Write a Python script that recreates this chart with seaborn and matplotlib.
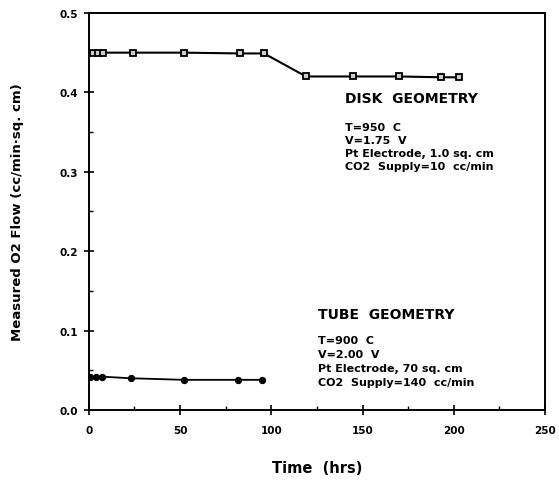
import numpy as np
import pandas as pd
import matplotlib
matplotlib.use("Agg")
import matplotlib.pyplot as plt
import seaborn as sns
from matplotlib.ticker import MultipleLocator

# data
disk_hrs = [2, 5, 8, 24, 52, 83, 96, 119, 145, 170, 193, 203]
disk_flow = [0.450, 0.450, 0.450, 0.450, 0.450, 0.449, 0.449, 0.420, 0.420, 0.420, 0.419, 0.419]
tube_hrs = [0.5, 4, 7, 23, 52, 82, 95]
tube_flow = [0.042, 0.042, 0.042, 0.040, 0.038, 0.038, 0.038]

disk_title = "DISK  GEOMETRY"
disk_notes = ["T=950  C", "V=1.75  V", "Pt Electrode, 1.0 sq. cm", "CO2  Supply=10  cc/min"]
tube_title = "TUBE  GEOMETRY"
tube_notes = ["T=900  C", "V=2.00  V", "Pt Electrode, 70 sq. cm", "CO2  Supply=140  cc/min"]

sns.set_style("ticks", {"axes.edgecolor": "black", "text.color": "black",
                        "axes.labelcolor": "black", "xtick.color": "black",
                        "ytick.color": "black"})
plt.rcParams['font.family'] = ['DejaVu Sans']
plt.rcParams['font.weight'] = 'bold'

fig = plt.figure(figsize=(5.59, 4.81), dpi=100)
ax = fig.add_axes([0.159, 0.1455, 0.816, 0.8255])

df_disk = pd.DataFrame({"hrs": disk_hrs, "flow": disk_flow})
df_tube = pd.DataFrame({"hrs": tube_hrs, "flow": tube_flow})

sns.lineplot(data=df_disk, x="hrs", y="flow", ax=ax, color="black", lw=1.5,
             marker="s", markersize=4.5, markerfacecolor="#cccccc",
             markeredgecolor="black", markeredgewidth=1.3)
sns.lineplot(data=df_tube, x="hrs", y="flow", ax=ax, color="black", lw=1.3,
             marker="o", markersize=4.5, markerfacecolor="black",
             markeredgecolor="black")

ax.set_xlim(0, 250)
ax.set_ylim(0, 0.5)
ax.xaxis.set_major_locator(MultipleLocator(50))
ax.xaxis.set_minor_locator(MultipleLocator(25))
ax.yaxis.set_major_locator(MultipleLocator(0.1))
ax.yaxis.set_minor_locator(MultipleLocator(0.05))
ax.yaxis.set_major_formatter(matplotlib.ticker.FormatStrFormatter('%.1f'))
ax.tick_params(which='major', direction='inout', length=7, width=1.2, labelsize=7.5)
ax.tick_params(axis='x', which='major', pad=7)
ax.tick_params(axis='y', which='major', pad=4)
ax.tick_params(which='minor', direction='in', length=3, width=1.0)
for lab in ax.get_xticklabels() + ax.get_yticklabels():
    lab.set_fontweight('bold')
for sp in ax.spines.values():
    sp.set_linewidth(1.4)
    sp.set_visible(True)

ax.set_xlabel("Time  (hrs)", fontsize=10.5, fontweight='bold', labelpad=18)
ax.set_ylabel("Measured O2 Flow (cc/min\u00b7sq. cm)", fontsize=9.5, fontweight='bold', labelpad=26)

ax.text(140.4, 0.393, disk_title, fontsize=10, fontweight='bold', va='center', ha='left')
for i, line in enumerate(disk_notes):
    ax.text(140.4, 0.357 - i * 0.0165, line, fontsize=8, fontweight='bold', va='center', ha='left')

ax.text(125.5, 0.121, tube_title, fontsize=10, fontweight='bold', va='center', ha='left')
for i, line in enumerate(tube_notes):
    ax.text(125.5, 0.088 - i * 0.0175, line, fontsize=8, fontweight='bold', va='center', ha='left')

plt.savefig("out.png", dpi=100)
